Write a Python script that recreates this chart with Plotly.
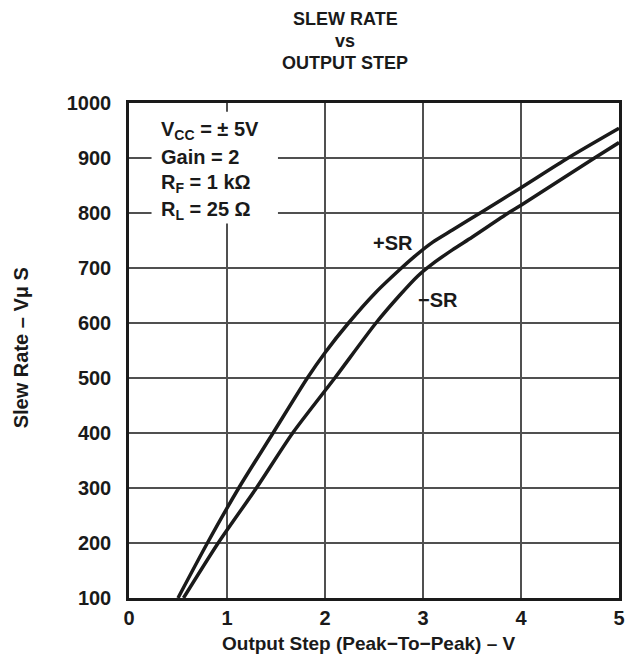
import plotly.graph_objects as go

# Data
pos_x = [0.50, 0.80, 1.12, 1.47, 1.82, 2.00, 2.24, 2.52, 2.78, 2.90, 3.10, 3.30, 3.60, 4.00, 4.48, 5.00]
pos_sr = [100, 200, 300, 400, 500, 546, 600, 656, 700, 719, 747, 769, 802, 846, 900, 954]
neg_x = [0.556, 0.91, 1.30, 1.67, 2.10, 2.52, 2.76, 2.95, 3.10, 3.30, 3.50, 3.87, 4.00, 4.75, 5.00]
neg_sr = [100, 200, 300, 400, 500, 600, 650, 686, 708, 733, 756, 800, 814, 900, 928]

x_ticks = [0, 1, 2, 3, 4, 5]
y_ticks = [100, 200, 300, 400, 500, 600, 700, 800, 900, 1000]

FONT = "Liberation Sans, Arial, Helvetica, sans-serif"
INK = "#1a1a1a"

fig = go.Figure()
for xs, ys in [(pos_x, pos_sr), (neg_x, neg_sr)]:
    fig.add_trace(go.Scatter(x=xs, y=ys, mode="lines",
                             line=dict(color=INK, width=3.5, shape="spline", smoothing=0.7),
                             showlegend=False, hoverinfo="skip"))

# page body has an 8px margin, so the figure is sized/offset accordingly
fig.update_layout(
    width=623, height=652,
    margin=dict(l=121, r=6, t=95, b=62),
    paper_bgcolor="white", plot_bgcolor="white",
    font=dict(family=FONT, size=20, color=INK, weight="bold"),
    showlegend=False,
)
fig.update_xaxes(range=[0, 5], tickvals=x_ticks, ticktext=[str(v) for v in x_ticks],
                 showgrid=True, gridcolor="#505050", gridwidth=1.5,
                 showline=True, linecolor=INK, linewidth=2.5, mirror=True,
                 zeroline=False, ticks="", ticklabelstandoff=0,
                 tickfont=dict(family=FONT, size=20, weight="bold"))
fig.update_yaxes(range=[100, 1000], tickvals=y_ticks, ticktext=[str(v) for v in y_ticks],
                 showgrid=True, gridcolor="#505050", gridwidth=1.5,
                 showline=True, linecolor=INK, linewidth=2.5, mirror=True,
                 zeroline=False, ticks="", ticklabelstandoff=11,
                 tickfont=dict(family=FONT, size=20, weight="bold"))

# white box behind the conditions text
fig.add_shape(type="rect", xref="x", yref="y", x0=0.23, x1=1.52, y0=781, y1=984,
              fillcolor="white", line=dict(width=0), layer="above")

cond = ["V<sub>CC</sub> = ± 5V", "Gain = 2", "R<sub>F</sub> = 1 kΩ", "R<sub>L</sub> = 25 Ω"]
cond_y = [950, 902, 853, 804]
for t, yv in zip(cond, cond_y):
    fig.add_annotation(x=0.31, y=yv, xref="x", yref="y", text=t, showarrow=False,
                       xanchor="left", yanchor="middle",
                       font=dict(family=FONT, size=20, weight="bold"))

fig.add_annotation(x=2.69, y=746, xref="x", yref="y", text="+SR", showarrow=False,
                   font=dict(family=FONT, size=20, weight="bold"))
fig.add_annotation(x=3.15, y=641, xref="x", yref="y", text="−SR", showarrow=False,
                   font=dict(family=FONT, size=20, weight="bold"))

# titles
for t, ypix in [("SLEW RATE", 19), ("vs", 41), ("OUTPUT STEP", 63)]:
    fig.add_annotation(x=(348 - 129) / 496, y=(598 - ypix) / 495, xref="paper", yref="paper",
                       text=t, showarrow=False, xanchor="center", yanchor="middle",
                       font=dict(family=FONT, size=18, weight="bold"))

fig.add_annotation(x=(372 - 129) / 496, y=(598 - 643) / 495, xref="paper", yref="paper",
                   text="Output Step (Peak−To−Peak) – V", showarrow=False,
                   xanchor="center", yanchor="middle",
                   font=dict(family=FONT, size=19, weight="bold"))
fig.add_annotation(x=(20 - 129) / 496, y=(598 - 348) / 495, xref="paper", yref="paper",
                   text="Slew Rate – Vμ S", showarrow=False, textangle=-90,
                   xanchor="center", yanchor="middle",
                   font=dict(family=FONT, size=20, weight="bold"))

fig.write_html("out.html")
